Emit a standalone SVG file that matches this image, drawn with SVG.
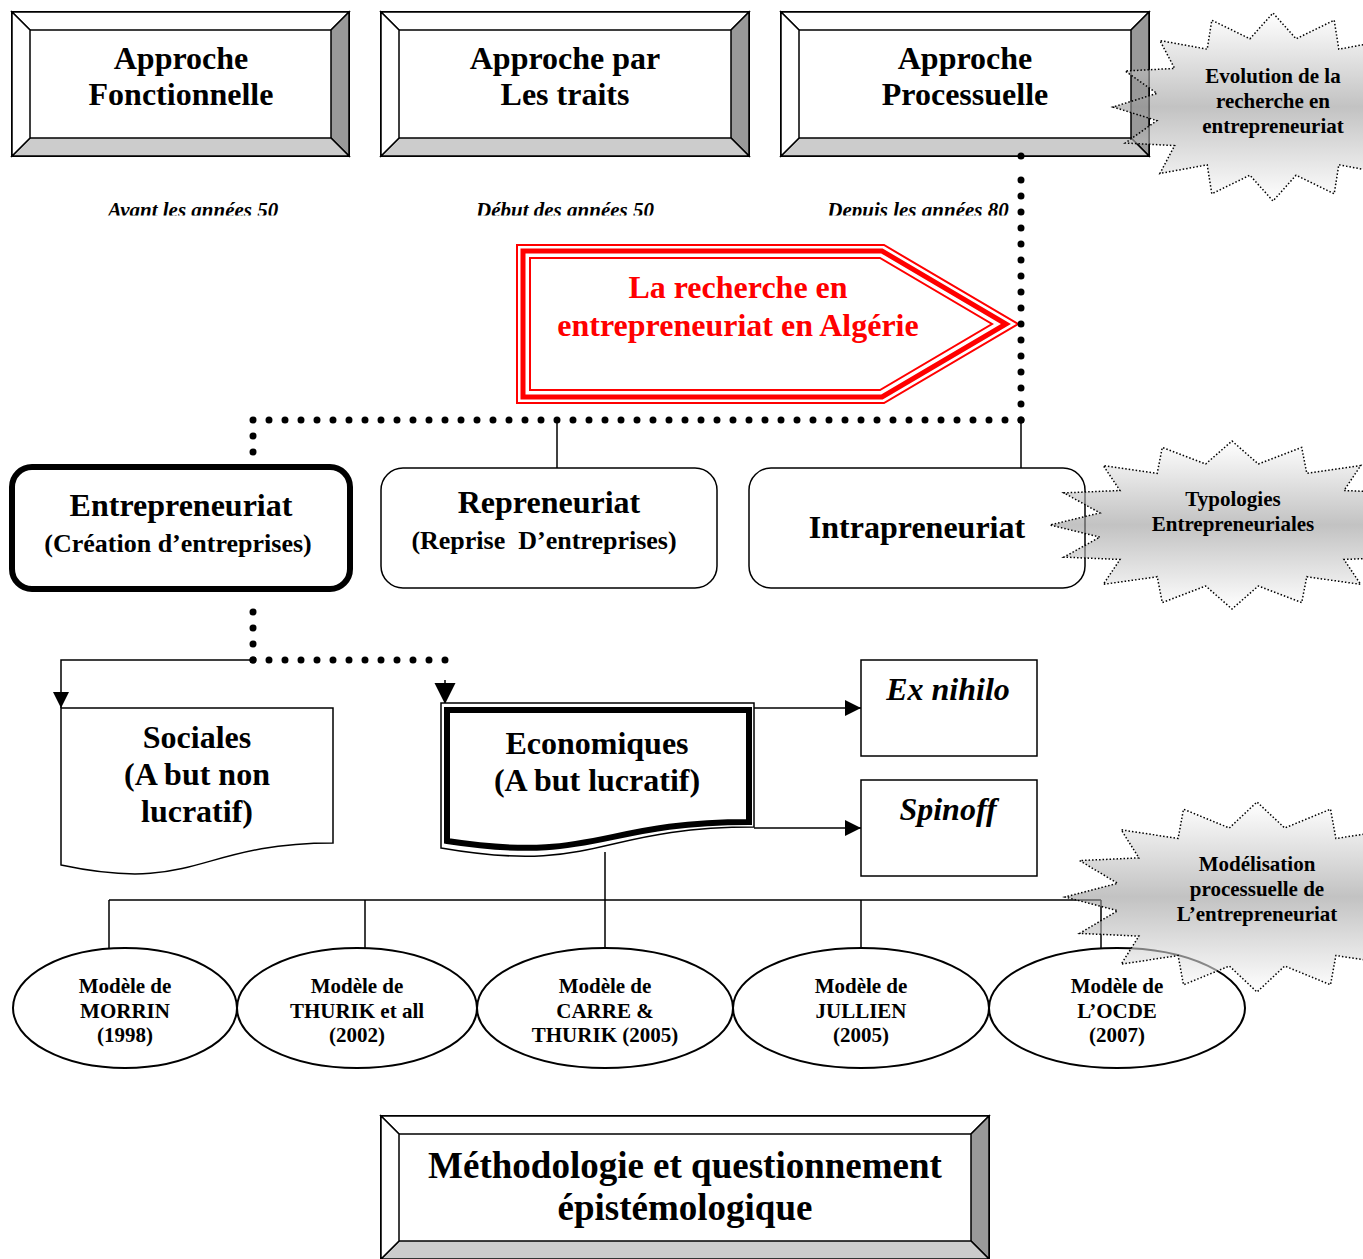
<svg xmlns="http://www.w3.org/2000/svg" width="1363" height="1259" viewBox="0 0 1363 1259">
<style>
.t{font-family:"Liberation Serif","Times New Roman",serif;font-weight:bold;fill:#000;text-anchor:middle}
.s32{font-size:32px}.s26{font-size:26px}.s21{font-size:21px}.s37{font-size:37px}
.it{font-style:italic}
.red{fill:#ff0000}
.bv{stroke:#000;stroke-width:1.5;stroke-linejoin:miter}
.wh{fill:#fff}.dk{fill:#999}.lt{fill:#ccc}
.rb{fill:#fff;stroke:#000;stroke-width:1.5}
.dots{fill:none;stroke:#000;stroke-width:7;stroke-dasharray:0 16;stroke-linecap:round}
.ln{fill:none;stroke:#000;stroke-width:1.5}
.burst{fill:url(#bg);fill-opacity:0.6;stroke:#000;stroke-width:1.5;stroke-dasharray:1.5 2}
.el{fill:#fff;stroke:#000;stroke-width:2}
</style>
<defs>
<linearGradient id="bg" x1="0" y1="0" x2="0" y2="1">
<stop offset="0" stop-color="#fff"/>
<stop offset="0.5" stop-color="#9a9a9a"/>
<stop offset="1" stop-color="#fff"/>
</linearGradient>
<marker id="ah" viewBox="0 0 10 10" refX="10" refY="5" markerWidth="17" markerHeight="16" markerUnits="userSpaceOnUse" orient="auto"><path d="M0,0 L10,5 L0,10 z" fill="#000" stroke="none"/></marker>
<marker id="ahb" viewBox="0 0 10 10" refX="10" refY="5" markerWidth="21" markerHeight="22" markerUnits="userSpaceOnUse" orient="auto"><path d="M0,0 L10,5 L0,10 z" fill="#000" stroke="none"/></marker>
<clipPath id="dclip"><rect x="0" y="180" width="1363" height="35.5"/></clipPath>
</defs>
<rect width="1363" height="1259" fill="#fff"/>

<g id="box-fonctionnelle">
<rect x="12" y="12" width="337" height="144" fill="#fff" stroke="#000" stroke-width="2"/>
<polygon class="bv wh" points="12,12 349,12 331,30 30,30"/>
<polygon class="bv dk" points="349,12 349,156 331,138 331,30"/>
<polygon class="bv lt" points="12,156 349,156 331,138 30,138"/>
<polygon class="bv wh" points="12,12 30,30 30,138 12,156"/>
<text class="t s32" x="181" y="69">Approche</text>
<text class="t s32" x="181" y="105">Fonctionnelle</text>
</g>
<g id="box-traits">
<rect x="381" y="12" width="368" height="144" fill="#fff" stroke="#000" stroke-width="2"/>
<polygon class="bv wh" points="381,12 749,12 731,30 399,30"/>
<polygon class="bv dk" points="749,12 749,156 731,138 731,30"/>
<polygon class="bv lt" points="381,156 749,156 731,138 399,138"/>
<polygon class="bv wh" points="381,12 399,30 399,138 381,156"/>
<text class="t s32" x="565" y="69">Approche par</text>
<text class="t s32" x="565" y="105">Les traits</text>
</g>
<g id="box-processuelle">
<rect x="781" y="12" width="368" height="144" fill="#fff" stroke="#000" stroke-width="2"/>
<polygon class="bv wh" points="781,12 1149,12 1131,30 799,30"/>
<polygon class="bv dk" points="1149,12 1149,156 1131,138 1131,30"/>
<polygon class="bv lt" points="781,156 1149,156 1131,138 799,138"/>
<polygon class="bv wh" points="781,12 799,30 799,138 781,156"/>
<text class="t s32" x="965" y="69">Approche</text>
<text class="t s32" x="965" y="105">Processuelle</text>
</g>

<g id="dates" clip-path="url(#dclip)">
<text class="t s21 it" x="193" y="217" fill="#111">Avant les années 50</text>
<text class="t s21 it" x="565" y="217" fill="#111">Début des années 50</text>
<text class="t s21 it" x="918" y="217" fill="#111">Depuis les années 80</text>
</g>

<g id="algerie">
<polygon points="517,245 884,245 1018,324 884,403 517,403" fill="#fff" stroke="#ff0000" stroke-width="2"/>
<polygon points="523,251 882,251 1006,324 882,397 523,397" fill="none" stroke="#ff0000" stroke-width="5"/>
<polygon points="530,258 880,258 992,324 880,390 530,390" fill="none" stroke="#ff0000" stroke-width="2"/>
<text class="t s32 red" x="738" y="298">La recherche en</text>
<text class="t s32 red" x="738" y="336">entrepreneuriat en Algérie</text>
</g>

<g id="connectors">
<path class="dots" d="M1021,420 V164 M1021,156 v0.01"/>
<path class="dots" d="M1021,420 H253"/>
<path class="dots" d="M253,420 V453"/>
<path class="ln" d="M557,420 V468"/>
<path class="ln" d="M1021,420 V468"/>
<path class="dots" d="M253,660 V604"/>
<path class="dots" d="M253,660 H445 V676"/>
<path class="ln" d="M445,680 V704" marker-end="url(#ahb)"/>
<path class="ln" d="M253,660 H61 V708" marker-end="url(#ah)"/>
<path class="ln" d="M754,708 H861" marker-end="url(#ah)"/>
<path class="ln" d="M754,828 H861" marker-end="url(#ah)"/>
<path class="ln" stroke-width="2" d="M605,852 V900 M109,900 H1101 M109,900 V948 M365,900 V948 M605,900 V948 M861,900 V948 M1101,900 V950"/>
</g>

<g id="entrepreneuriat">
<rect x="12" y="467" width="338" height="122" rx="20" fill="#fff" stroke="#000" stroke-width="6"/>
<text class="t s32" x="181" y="516">Entrepreneuriat</text>
<text class="t s26" x="178" y="552">(Création d’entreprises)</text>
</g>
<g id="repreneuriat">
<rect class="rb" x="381" y="468" width="336" height="120" rx="22"/>
<text class="t s32" x="549" y="513">Repreneuriat</text>
<text class="t s26" x="544" y="549">(Reprise&#160; D’entreprises)</text>
</g>
<g id="intrapreneuriat">
<rect class="rb" x="749" y="468" width="336" height="120" rx="22"/>
<text class="t s32" x="917" y="538">Intrapreneuriat</text>
</g>

<g id="sociales">
<path d="M61,708 H333 V843 C197,843 197,894 61,865 Z" fill="#fff" stroke="#000" stroke-width="1.5"/>
<text class="t s32" x="197" y="748">Sociales</text>
<text class="t s32" x="197" y="785">(A but non</text>
<text class="t s32" x="197" y="822">lucratif)</text>
</g>
<g id="economiques">
<path d="M441,703 H754 V827 C597,827 597,875 441,848 Z" fill="#fff" stroke="#000" stroke-width="1.5"/>
<path d="M447,710 H749 V822 C598,822 598,864 447,841 Z" fill="none" stroke="#000" stroke-width="6"/>
<text class="t s32" x="597" y="754">Economiques</text>
<text class="t s32" x="597" y="791">(A but lucratif)</text>
</g>
<g id="exnihilo">
<rect class="rb" x="861" y="660" width="176" height="96"/>
<text class="t s32 it" x="948" y="700">Ex nihilo</text>
</g>
<g id="spinoff">
<rect class="rb" x="861" y="780" width="176" height="96"/>
<text class="t s32 it" x="948" y="820">Spinoff</text>
</g>

<g id="morrin">
<ellipse class="el" cx="125" cy="1008" rx="112" ry="60"/>
<text class="t s21" x="125" y="993">Modèle de</text>
<text class="t s21" x="125" y="1018">MORRIN</text>
<text class="t s21" x="125" y="1042">(1998)</text>
</g>
<g id="thurik">
<ellipse class="el" cx="357" cy="1008" rx="120" ry="60"/>
<text class="t s21" x="357" y="993">Modèle de</text>
<text class="t s21" x="357" y="1018">THURIK et all</text>
<text class="t s21" x="357" y="1042">(2002)</text>
</g>
<g id="carre">
<ellipse class="el" cx="605" cy="1008" rx="128" ry="60"/>
<text class="t s21" x="605" y="993">Modèle de</text>
<text class="t s21" x="605" y="1018">CARRE &amp;</text>
<text class="t s21" x="605" y="1042">THURIK (2005)</text>
</g>
<g id="jullien">
<ellipse class="el" cx="861" cy="1008" rx="128" ry="60"/>
<text class="t s21" x="861" y="993">Modèle de</text>
<text class="t s21" x="861" y="1018">JULLIEN</text>
<text class="t s21" x="861" y="1042">(2005)</text>
</g>
<g id="ocde">
<ellipse class="el" cx="1117" cy="1008" rx="128" ry="60"/>
<text class="t s21" x="1117" y="993">Modèle de</text>
<text class="t s21" x="1117" y="1018">L’OCDE</text>
<text class="t s21" x="1117" y="1042">(2007)</text>
</g>

<g id="methodologie">
<rect x="381" y="1116" width="608" height="143" fill="#fff" stroke="#000" stroke-width="2"/>
<polygon class="bv wh" points="381,1116 989,1116 971,1134 399,1134"/>
<polygon class="bv dk" points="989,1116 989,1259 971,1241 971,1134"/>
<polygon class="bv lt" points="381,1259 989,1259 971,1241 399,1241"/>
<polygon class="bv wh" points="381,1116 399,1134 399,1241 381,1259"/>
<text class="t s37" x="685" y="1178">Méthodologie et questionnement</text>
<text class="t s37" x="685" y="1220">épistémologique</text>
</g>

<g id="burst-evolution">
<polygon class="burst" points="1433,107 1389.1,93.4 1420.8,71 1371.4,68.4 1386.1,40.5 1338.8,49.2 1334.2,20.2 1296.1,38.8 1273,13 1249.9,38.8 1211.8,20.2 1207.2,49.2 1159.9,40.5 1174.6,68.4 1125.2,71 1156.9,93.4 1113,107 1156.9,120.6 1125.2,143 1174.6,145.6 1159.9,173.5 1207.2,164.8 1211.8,193.8 1249.9,175.2 1273,201 1296.1,175.2 1334.2,193.8 1338.8,164.8 1386.1,173.5 1371.4,145.6 1420.8,143 1389.1,120.6"/>
<text class="t s21" x="1273" y="83">Evolution de la</text>
<text class="t s21" x="1273" y="108">recherche en</text>
<text class="t s21" x="1273" y="133">entrepreneuriat</text>
</g>
<g id="burst-typologies">
<polygon class="burst" points="1414,525 1364.1,512.9 1400.1,492.9 1344,490.5 1360.7,465.6 1306.8,473.3 1301.7,447.4 1258.3,464 1232,441 1205.7,464 1162.3,447.4 1157.2,473.3 1103.3,465.6 1120,490.5 1063.9,492.9 1099.9,512.9 1050,525 1099.9,537.1 1063.9,557.1 1120,559.5 1103.3,584.4 1157.2,576.7 1162.3,602.6 1205.7,586 1232,609 1258.3,586 1301.7,602.6 1306.8,576.7 1360.7,584.4 1344,559.5 1400.1,557.1 1364.1,537.1"/>
<text class="t s21" x="1233" y="506">Typologies</text>
<text class="t s21" x="1233" y="531">Entrepreneuriales</text>
</g>
<g id="burst-modelisation">
<polygon class="burst" points="1449,897 1396.4,883.3 1434.4,860.6 1375.1,857.9 1392.8,829.8 1335.9,838.5 1330.5,809.2 1284.7,828 1257,802 1229.3,828 1183.5,809.2 1178.1,838.5 1121.2,829.8 1138.9,857.9 1079.6,860.6 1117.6,883.3 1065,897 1117.6,910.7 1079.6,933.4 1138.9,936.1 1121.2,964.2 1178.1,955.5 1183.5,984.8 1229.3,966 1257,992 1284.7,966 1330.5,984.8 1335.9,955.5 1392.8,964.2 1375.1,936.1 1434.4,933.4 1396.4,910.7"/>
<text class="t s21" x="1257" y="871">Modélisation</text>
<text class="t s21" x="1257" y="896">processuelle de</text>
<text class="t s21" x="1257" y="921">L’entrepreneuriat</text>
</g>
</svg>
